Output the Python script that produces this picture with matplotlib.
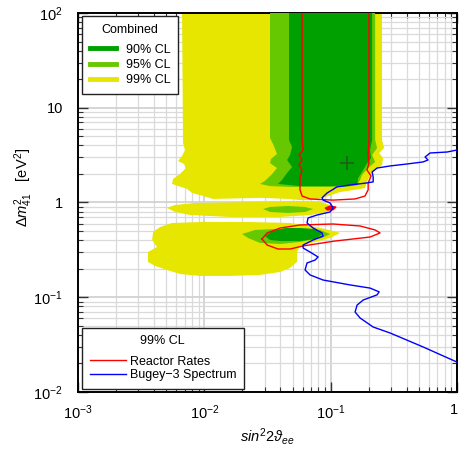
import numpy as np
import matplotlib
matplotlib.use('Agg')
import matplotlib.pyplot as plt
import matplotlib.transforms as mtransforms
from matplotlib.lines import Line2D

plt.rcParams['font.family'] = ['Liberation Sans', 'DejaVu Sans']
plt.rcParams['mathtext.fontset'] = 'custom'
plt.rcParams['mathtext.rm'] = 'Liberation Sans'
plt.rcParams['mathtext.it'] = 'Liberation Sans:italic'
plt.rcParams['mathtext.bf'] = 'Liberation Sans:bold'

# combined fit contours, (sin^2 2theta_ee, dm^2_41 [eV^2])
cl99_top_x = [0.00666, 0.255, 0.255, 0.265, 0.242, 0.260, 0.255, 0.225, 0.205, 0.194, 0.187,
              0.156, 0.119, 0.0903, 0.0687, 0.0572, 0.0477, 0.0276, 0.0117, 0.0105, 0.0080,
              0.0073, 0.00555, 0.00565, 0.00642, 0.00716, 0.00691, 0.00619, 0.00666, 0.00703, 0.00678]
cl99_top_y = [100, 100, 4.57, 3.76, 3.33, 2.95, 2.49, 2.20, 1.95, 1.65, 1.42,
              1.36, 1.29, 1.14, 1.06, 1.06, 1.09, 1.12, 1.09, 1.14, 1.26,
              1.39, 1.57, 1.77, 2.00, 2.31, 2.55, 2.74, 3.10, 3.58, 4.25]

cl99_mid_x = [0.00507, 0.00586, 0.00844, 0.0230, 0.0572, 0.0824, 0.0989, 0.1026, 0.0937,
              0.0687, 0.0398, 0.0160, 0.0077, 0.00586]
cl99_mid_y = [0.875, 0.941, 0.988, 1.012, 1.037, 1.012, 0.941, 0.875, 0.794,
              0.738, 0.703, 0.703, 0.738, 0.794]

cl99_low_x = [0.00555, 0.00925, 0.0230, 0.0477, 0.0687, 0.0903, 0.119, 0.0989, 0.0753, 0.0572,
              0.0542, 0.0542, 0.0477, 0.0398, 0.0276, 0.0160, 0.00925, 0.00642, 0.00507,
              0.00407, 0.00358, 0.00358, 0.00422, 0.00386, 0.00393, 0.00446]
cl99_low_y = [0.608, 0.622, 0.622, 0.608, 0.565, 0.525, 0.477, 0.422, 0.383, 0.348,
              0.300, 0.236, 0.204, 0.185, 0.172, 0.168, 0.168, 0.176, 0.194,
              0.214, 0.236, 0.300, 0.339, 0.402, 0.488, 0.551]

cl95_top_x = [0.0331, 0.225, 0.225, 0.233, 0.213, 0.225, 0.198, 0.177, 0.171, 0.162, 0.130,
              0.0824, 0.0477, 0.0331, 0.0276, 0.0302, 0.0344, 0.0376, 0.0331, 0.0337,
              0.0376, 0.0350, 0.0331]
cl95_top_y = [100, 100, 4.57, 3.76, 3.17, 2.68, 2.31, 1.95, 1.73, 1.53, 1.46,
              1.46, 1.46, 1.49, 1.57, 1.69, 2.00, 2.31, 2.61, 2.88,
              3.25, 4.14, 4.79]

cl95_mid_x = [0.0292, 0.0331, 0.0460, 0.0627, 0.0726, 0.0627, 0.0460, 0.0331]
cl95_mid_y = [0.854, 0.897, 0.919, 0.897, 0.854, 0.794, 0.775, 0.794]

cl95_low_x = [0.0199, 0.0252, 0.0363, 0.0572, 0.0824, 0.0989, 0.0855, 0.0572, 0.0398, 0.0276, 0.0222]
cl95_low_y = [0.465, 0.513, 0.525, 0.525, 0.513, 0.465, 0.422, 0.383, 0.365, 0.374, 0.422]

cl90_top_x = [0.0468, 0.213, 0.213, 0.205, 0.209, 0.191, 0.177, 0.165, 0.162, 0.0989,
              0.0572, 0.0383, 0.0412, 0.0452, 0.0495, 0.0452, 0.0477, 0.0495, 0.0468]
cl90_top_y = [100, 100, 4.57, 3.58, 2.95, 2.49, 2.10, 1.81, 1.53, 1.49,
              1.49, 1.57, 1.73, 2.05, 2.37, 2.81, 3.17, 3.85, 4.57]

cl90_low_x = [0.0302, 0.0344, 0.0436, 0.0572, 0.0753, 0.0855, 0.0753, 0.0572, 0.0398, 0.0331]
cl90_low_y = [0.443, 0.500, 0.538, 0.538, 0.525, 0.465, 0.412, 0.392, 0.392, 0.402]

best_fit = (0.135, 2.61)

# reactor rates, 99% CL
rates_top_x = [0.0594, 0.0594, 0.0605, 0.0562, 0.0594, 0.0562, 0.0594, 0.0572, 0.0572, 0.0594,
               0.0687, 0.1045, 0.156, 0.187, 0.198, 0.198, 0.209, 0.194, 0.201, 0.198, 0.201, 0.201]
rates_top_y = [100, 4.57, 3.58, 3.17, 2.81, 2.49, 2.20, 1.81, 1.36, 1.17,
               1.09, 1.06, 1.09, 1.17, 1.36, 1.61, 1.90, 2.20, 2.61, 3.17, 4.57, 100]

rates_loop_x = [0.0286, 0.0314, 0.0398, 0.0572, 0.1045, 0.171, 0.225, 0.246, 0.205, 0.108,
                0.0605, 0.0477, 0.0383, 0.0314, 0.0286]
rates_loop_y = [0.412, 0.477, 0.538, 0.579, 0.593, 0.565, 0.513, 0.477, 0.432, 0.392,
                0.348, 0.323, 0.323, 0.356, 0.412]

rates_spot_x = [0.0903, 0.0989, 0.1104, 0.1045, 0.0937]
rates_spot_y = [0.875, 0.919, 0.897, 0.834, 0.834]

# Bugey-3 spectrum, 99% CL
bugey_x = [1.0, 0.835, 0.612, 0.559, 0.590, 0.539, 0.403, 0.295, 0.233, 0.213, 0.217, 0.217,
           0.194, 0.142, 0.112, 0.103, 0.0937, 0.0855, 0.0871, 0.0989, 0.1045, 0.0989, 0.0780,
           0.0662, 0.0650, 0.0726, 0.0855, 0.0871, 0.0726, 0.0605, 0.0605, 0.0687, 0.0795,
           0.0753, 0.0650, 0.0627, 0.0687, 0.0871, 0.142, 0.205, 0.242, 0.233, 0.181, 0.162,
           0.156, 0.171, 0.217, 0.295, 0.539, 1.0]
bugey_y = [3.58, 3.41, 3.33, 3.02, 2.81, 2.68, 2.55, 2.43, 2.31, 2.10, 1.86, 1.65,
           1.61, 1.53, 1.46, 1.36, 1.26, 1.12, 1.06, 0.988, 0.875, 0.794, 0.738,
           0.686, 0.608, 0.538, 0.477, 0.443, 0.402, 0.356, 0.331, 0.300, 0.266,
           0.247, 0.230, 0.194, 0.172, 0.152, 0.135, 0.125, 0.114, 0.106, 0.0935, 0.0828,
           0.0699, 0.0604, 0.0485, 0.0420, 0.0299, 0.0207]

c90 = '#00a000'
c95 = '#66c800'
c99 = '#e6e600'

fig = plt.figure(figsize=(4.59, 4.51), dpi=100)
ax = fig.add_axes([0.170, 0.1308, 0.8256, 0.8404])

for px, py in [(cl99_top_x, cl99_top_y), (cl99_mid_x, cl99_mid_y), (cl99_low_x, cl99_low_y)]:
    ax.fill(px, py, color=c99, lw=0, zorder=2)
for px, py in [(cl95_top_x, cl95_top_y), (cl95_mid_x, cl95_mid_y), (cl95_low_x, cl95_low_y)]:
    ax.fill(px, py, color=c95, lw=0, zorder=3)
for px, py in [(cl90_top_x, cl90_top_y), (cl90_low_x, cl90_low_y)]:
    ax.fill(px, py, color=c90, lw=0, zorder=4)

ax.plot(rates_top_x, rates_top_y, color='red', lw=1.0, zorder=5)
ax.plot(rates_loop_x, rates_loop_y, color='red', lw=1.0, zorder=5)
ax.fill(rates_spot_x, rates_spot_y, facecolor='red', edgecolor='red', lw=0.8, zorder=5)
ax.plot(bugey_x, bugey_y, color='blue', lw=1.0, zorder=6)
ax.plot(*best_fit, marker='+', color='#1d5e1d', ms=9.5, mew=1.2, zorder=7)

ax.set_xscale('log')
ax.set_yscale('log')
ax.set_xlim(1e-3, 1)
ax.set_ylim(1e-2, 1e2)

ax.set_xticks([1e-3, 1e-2, 1e-1, 1])
ax.set_xticklabels([r'$10^{-3}$', r'$10^{-2}$', r'$10^{-1}$', '1'])
ax.set_yticks([1e-2, 1e-1, 1, 10, 1e2])
ax.set_yticklabels([r'$10^{-2}$', r'$10^{-1}$', '1', '10', r'$10^{2}$'])

ax.set_axisbelow(True)
ax.grid(which='major', color='#d2d2d2', lw=1.3, zorder=0)
ax.grid(which='minor', color='#dadada', lw=0.9, zorder=0)
ax.tick_params(which='both', direction='in', top=True, right=True, color='#333333')
ax.tick_params(which='major', length=7, width=1.0, labelsize=10.5)
ax.tick_params(axis='x', which='major', pad=8)
ax.tick_params(axis='y', which='major', pad=11)
ax.tick_params(which='minor', length=3.5, width=0.8)
for s in ax.spines.values():
    s.set_linewidth(1.4)

# keep the last x label inside the canvas
last = ax.get_xticklabels()[-1]
last.set_transform(last.get_transform() + mtransforms.ScaledTranslation(-3 / 100, 0, fig.dpi_scale_trans))

ax.set_xlabel(r'$sin^{2}2\vartheta_{ee}$', fontsize=10.5)
ax.xaxis.set_label_coords(0.5, -0.09)
ax.set_ylabel(r'$\Delta m^{2}_{41}$   [eV$^{2}$]', fontsize=10.5)
ax.yaxis.set_label_coords(-0.113, 0.54)

h1 = [Line2D([], [], color=c, lw=3.5) for c in (c90, c95, c99)]
leg1 = ax.legend(h1, ['90% CL', '95% CL', '99% CL'], title='Combined', loc='upper left',
                 bbox_to_anchor=(0.0106, 0.992), borderaxespad=0, fontsize=9, title_fontsize=9,
                 fancybox=False, framealpha=1, edgecolor='#222222', handlelength=2.1,
                 handletextpad=0.8, labelspacing=0.25, borderpad=0.6)
leg1.get_frame().set_linewidth(1.0)
# wider gap between the title and the entries
leg1._legend_box.sep = 6.0
ax.add_artist(leg1)

h2 = [Line2D([], [], color='red', lw=1.0), Line2D([], [], color='blue', lw=1.0)]
leg2 = ax.legend(h2, ['Reactor Rates', 'Bugey\u22123 Spectrum'], title='99% CL', loc='lower left',
                 bbox_to_anchor=(0.0106, 0.008), borderaxespad=0, fontsize=9, title_fontsize=9,
                 fancybox=False, framealpha=1, edgecolor='#222222', handlelength=2.9,
                 handletextpad=0.3, labelspacing=0.15, borderpad=0.6)
leg2.get_frame().set_linewidth(1.0)
leg2._legend_box.sep = 6.0
leg1.set_zorder(10)
leg2.set_zorder(10)

fig.savefig('out.png', dpi=100)
